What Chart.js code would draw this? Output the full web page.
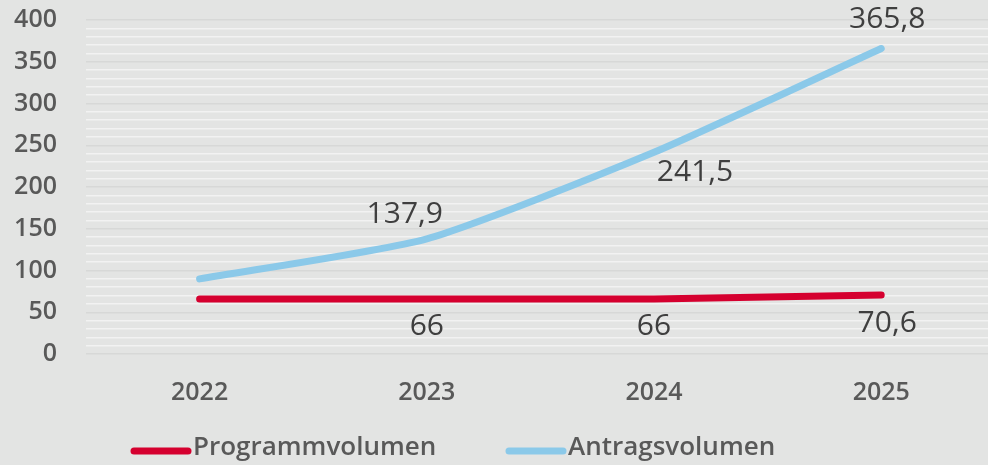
<!DOCTYPE html>
<html>
<head>
<meta charset="utf-8">
<script src="https://cdn.jsdelivr.net/npm/chart.js@4.4.1/dist/chart.umd.min.js"></script>
<style>
  html, body { margin: 0; padding: 0; background: #e3e4e3; overflow: hidden; }
  #wrap { position: relative; width: 988px; height: 465px; }
</style>
</head>
<body>
<div id="wrap"><canvas id="volChart" width="988" height="465"></canvas></div>
<script>
// Daten
const years = ['2022', '2023', '2024', '2025'];
const programmVolumen = [66, 66, 66, 70.6];
const antragsVolumen = [90, 137.9, 241.5, 365.8];
const yTickLabels = [0, 50, 100, 150, 200, 250, 300, 350, 400];
const labelledPoints = [1, 2, 3]; // 2022 hat keine Beschriftung

const RED = '#d5002f';
const BLUE = '#8bc9e9';

// Wertebeschriftungen (Excel-artig), Versatz je Punkt
const valueLabels = {
  id: 'valueLabels',
  afterDatasetsDraw(chart, args, opts) {
    const c = chart.ctx;
    c.save();
    c.font = '400 30px "Open Sans"';
    c.fillStyle = '#3f3f3f';
    c.textAlign = 'center';
    c.textBaseline = 'middle';
    chart.data.datasets.forEach((ds, di) => {
      const meta = chart.getDatasetMeta(di);
      labelledPoints.forEach(i => {
        const pt = meta.data[i];
        const off = opts.offsets[di][i];
        const txt = ds.data[i].y.toLocaleString('de-DE');
        c.fillText(txt, pt.x + off[0], pt.y + off[1]);
      });
    });
    c.restore();
  }
};

// Legende wie im Original (links versetzt)
const customLegend = {
  id: 'customLegend',
  afterDraw(chart) {
    const c = chart.ctx;
    const items = [
      { text: 'Programmvolumen', color: RED, x: 131 },
      { text: 'Antragsvolumen', color: BLUE, x: 506 }
    ];
    c.save();
    c.font = '600 26px "Open Sans"';
    c.textBaseline = 'middle';
    items.forEach(it => {
      c.strokeStyle = it.color;
      c.lineWidth = 7;
      c.lineCap = 'round';
      c.beginPath();
      c.moveTo(it.x + 3, 451);
      c.lineTo(it.x + 57, 451);
      c.stroke();
      c.fillStyle = '#595959';
      c.fillText(it.text, it.x + 62, 448);
    });
    c.restore();
  }
};

const ctx = document.getElementById('volChart').getContext('2d');

const chart = new Chart(ctx, {
  type: 'line',
  data: {
    datasets: [
      {
        label: 'Programmvolumen',
        data: programmVolumen.map((v, i) => ({ x: i, y: v })),
        borderColor: RED,
        borderWidth: 7,
        borderCapStyle: 'round',
        pointRadius: 0,
        tension: 0.2,
        clip: false
      },
      {
        label: 'Antragsvolumen',
        data: antragsVolumen.map((v, i) => ({ x: i, y: v })),
        borderColor: BLUE,
        borderWidth: 7,
        borderCapStyle: 'round',
        pointRadius: 0,
        tension: 0.2,
        clip: false
      }
    ]
  },
  options: {
    responsive: false,
    animation: false,
    layout: { padding: { top: 20, right: 0, bottom: 57, left: 0 } },
    plugins: {
      legend: { display: false },
      tooltip: { enabled: false },
      valueLabels: {
        offsets: [
          [null, [0, 28], [0, 28], [6, 28]],
          [null, [-22, -24], [41, 20], [6, -29]]
        ]
      }
    },
    scales: {
      x: {
        type: 'linear',
        min: -0.5,
        max: 3.47,
        afterBuildTicks: axis => { axis.ticks = years.map((y, i) => ({ value: i })); },
        afterFit: axis => {
          axis.height = 54;
          axis.paddingLeft = 0; axis.paddingRight = 0;
        },
        grid: { display: false, drawTicks: false },
        border: { display: false },
        ticks: {
          padding: 24,
          maxRotation: 0,
          color: '#595959',
          font: { family: 'Open Sans', size: 25, weight: '600' },
          callback: v => years[v]
        }
      },
      y: {
        min: 0,
        max: 400,
        afterFit: axis => {
          axis.width = 86;
          axis.paddingTop = 0; axis.paddingBottom = 0;
        },
        border: { display: false },
        grid: {
          drawTicks: false,
          lineWidth: 1.5,
          color: c => (c.tick && c.tick.value % 50 === 0) ? '#d7d8d7' : '#f2f2f2'
        },
        ticks: {
          stepSize: 10,
          autoSkip: false,
          padding: 29,
          color: '#595959',
          font: { family: 'Open Sans', size: 25, weight: '600' },
          callback: v => yTickLabels.includes(v) ? v : ''
        }
      }
    }
  },
  plugins: [valueLabels, customLegend]
});
</script>
</body>
</html>
